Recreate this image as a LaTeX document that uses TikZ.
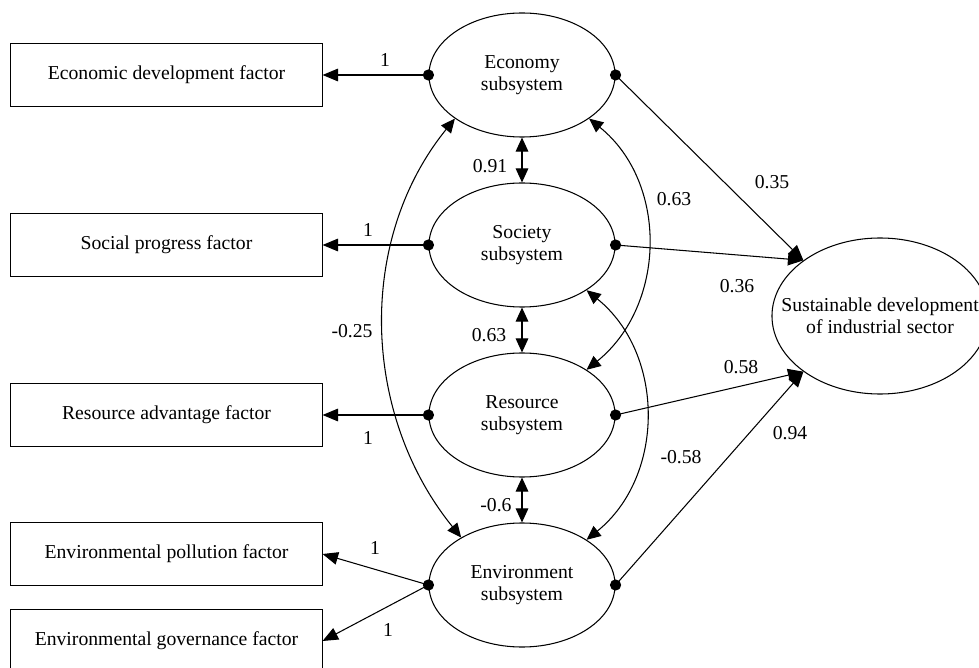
\documentclass[tikz,border=0pt]{standalone}
\usepackage{fontspec}
\setmainfont{Liberation Serif}
\usetikzlibrary{arrows.meta,shapes.geometric}

\begin{document}
\begin{tikzpicture}[x=0.025cm, y=-0.025cm, line width=0.75pt,
    font=\fontsize{14}{15.6}\selectfont,
    factor/.style={draw, minimum width=7.775cm, minimum height=1.575cm, inner sep=0pt},
    latent/.style={draw, ellipse, minimum width=4.65cm, minimum height=3.1cm, inner sep=0pt, align=center},
    effect/.style={-{Triangle[length=11pt,width=9pt]}},
    covar/.style={{Triangle[length=10pt,width=9pt]}-{Triangle[length=10pt,width=9pt]}}]
    \useasboundingbox (0,0) rectangle (979,668);

    % observed factors
    \node[factor] (econf) at (166.5,75) {Economic development factor};
    \node[factor] (socf) at (166.5,245) {Social progress factor};
    \node[factor] (resf) at (166.5,415) {Resource advantage factor};
    \node[factor] (pollf) at (166.5,554) {Environmental pollution factor};
    \node[factor] (govf) at (166.5,641) {Environmental governance factor};

    % subsystems
    \node[latent] (econ) at (522,75) {Economy\\subsystem};
    \node[latent] (soc) at (522,245) {Society\\subsystem};
    \node[latent] (res) at (522,415) {Resource\\subsystem};
    \node[latent] (env) at (522,585) {Environment\\subsystem};
    \node[latent, minimum width=5.4cm, minimum height=3.9cm,
      label={[align=center]center:Sustainable development\\of industrial sector}] (sus) at (880,316) {};

    % loadings
    \draw[effect] (econ.west) -- (econf.east);
    \draw[effect] (soc.west) -- (socf.east);
    \draw[effect] (res.west) -- (resf.east);
    \draw[effect] (env.west) -- (pollf.east);
    \draw[effect] (env.west) -- (govf.east);

    % paths to the sector
    \draw[effect] (econ.east) -- (sus.144);
    \draw[effect] (soc.east) -- (sus.144);
    \draw[effect] (res.east) -- (sus.216);
    \draw[effect] (env.east) -- (sus.216);

    % correlations
    \draw[covar] (econ.south) -- (soc.north);
    \draw[covar] (soc.south) -- (res.north);
    \draw[covar] (res.south) -- (env.north);
    \draw[covar] (econ.213) to[out=231, in=129, looseness=0.96] (env.142);
    \draw[covar] (econ.-33) to[out=-39, in=39, looseness=1.04] (res.35);
    \draw[covar] (soc.-35) to[out=-39, in=39, looseness=1.04] (env.35);

    \foreach \n in {econ,soc,res,env} {
      \fill (\n.west) circle (4pt);
      \fill (\n.east) circle (4pt);
    }

    % coefficients
    \node (k1) at (385,60) {1};
    \node (k2) at (368,230) {1};
    \node (k3) at (368,438) {1};
    \node (k4) at (375,548) {1};
    \node (k5) at (388,630) {1};
    \node (r1) at (490,166) {0.91};
    \node (r2) at (489,335) {0.63};
    \node (r3) at (496,505) {-0.6};
    \node (r4) at (352,331) {-0.25};
    \node (r5) at (674,199) {0.63};
    \node (r6) at (681,457) {-0.58};
    \node (b1) at (772,182) {0.35};
    \node (b2) at (737,286) {0.36};
    \node (b3) at (741,367) {0.58};
    \node (b4) at (790,433) {0.94};
\end{tikzpicture}
\end{document}
